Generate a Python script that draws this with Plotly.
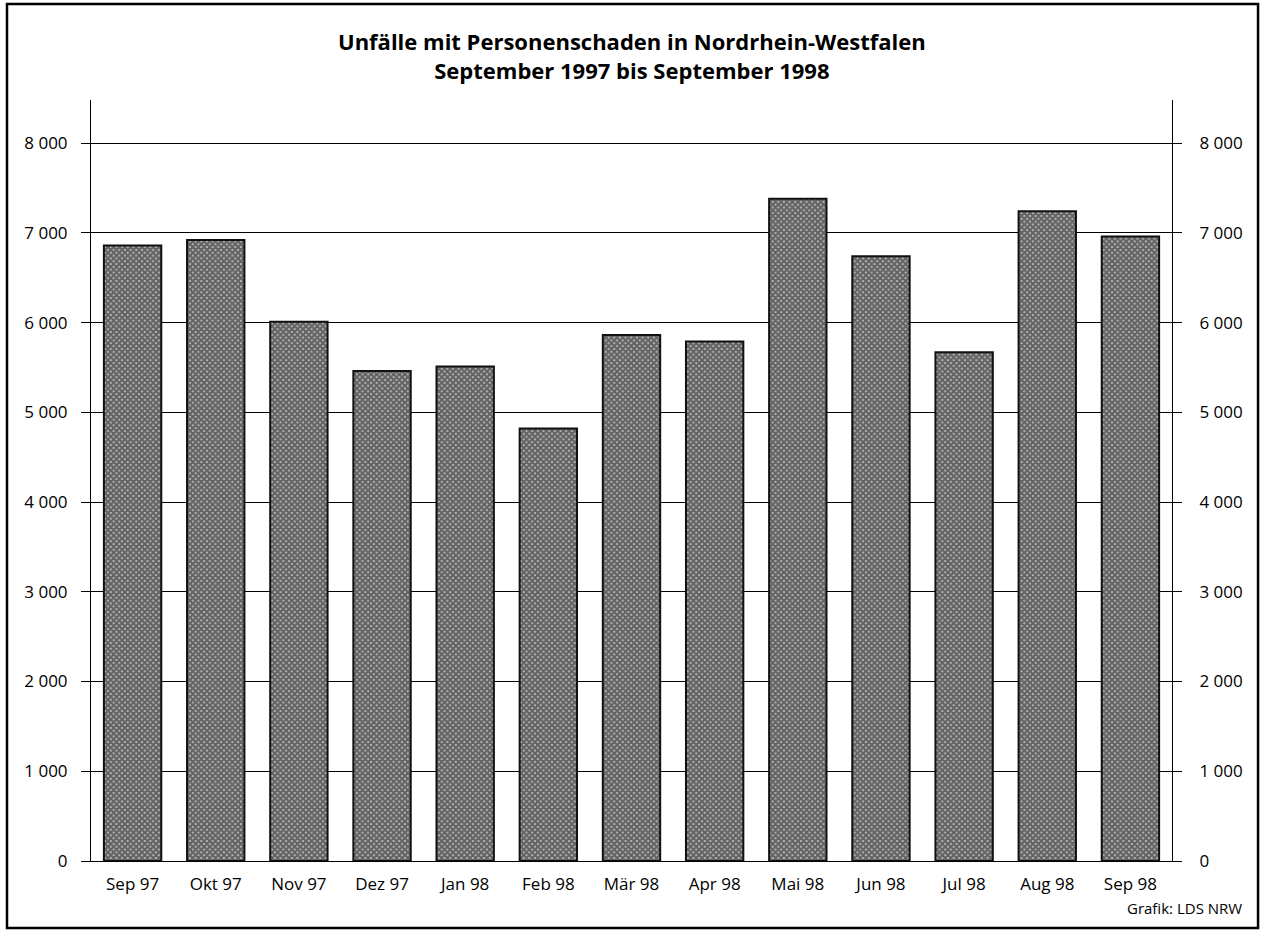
import plotly.graph_objects as go

# Monthly accidents with personal injury, NRW
months = ['Sep 97', 'Okt 97', 'Nov 97', 'Dez 97', 'Jan 98', 'Feb 98', 'Mär 98',
          'Apr 98', 'Mai 98', 'Jun 98', 'Jul 98', 'Aug 98', 'Sep 98']
accidents = [6860, 6920, 6010, 5460, 5510, 4820, 5860,
             5790, 7380, 6740, 5670, 7240, 6960]

tick_vals = [0, 1000, 2000, 3000, 4000, 5000, 6000, 7000, 8000]
tick_text = ['0', '1 000', '2 000', '3 000', '4 000', '5 000', '6 000', '7 000', '8 000']

FONT = 'Open Sans'

fig = go.Figure()

fig.add_trace(go.Bar(
    x=months,
    y=accidents,
    marker=dict(
        color='white',
        line=dict(color='#111111', width=2),
        pattern=dict(shape='x', size=4, solidity=0.8, fgcolor='#000000', bgcolor='#c8c8c8'),
    ),
    showlegend=False,
))

# invisible trace so the right axis gets drawn
fig.add_trace(go.Scatter(x=months, y=accidents, yaxis='y2', mode='markers',
                         marker=dict(opacity=0), showlegend=False, hoverinfo='skip'))

axis_y = dict(
    range=[0, 8480],
    tickvals=tick_vals,
    ticktext=tick_text,
    ticks='outside',
    ticklen=9,
    tickcolor='black',
    showline=True,
    linecolor='black',
    linewidth=1,
    tickfont=dict(family=FONT, size=17, color='black'),
    zeroline=False,
)

fig.update_layout(
    width=1261,
    height=933,
    paper_bgcolor='white',
    plot_bgcolor='white',
    margin=dict(l=91, r=89, t=100, b=72),
    bargap=0.31,
    font=dict(family=FONT, color='black'),
    xaxis=dict(
        range=[-0.5, len(months) - 0.5],
        showline=True,
        linecolor='black',
        linewidth=1,
        ticks='',
        tickfont=dict(family=FONT, size=17, color='black'),
        showgrid=False,
        ticklabelstandoff=8,
    ),
    yaxis=dict(**axis_y, showgrid=True, gridcolor='black', gridwidth=1, ticklabelstandoff=10),
    yaxis2=dict(**axis_y, overlaying='y', side='right', showgrid=False, ticklabelstandoff=14),
)

fig.add_annotation(
    text='<b>Unfälle mit Personenschaden in Nordrhein-Westfalen<br>'
         'September 1997 bis September 1998</b>',
    xref='paper', yref='paper', x=0.5, y=1.058, xanchor='center', yanchor='middle',
    showarrow=False, font=dict(family=FONT, size=22, color='black'), align='center',
)

fig.add_annotation(
    text='Grafik: LDS NRW',
    xref='paper', yref='paper', x=1.067, y=-0.062, xanchor='right', yanchor='middle',
    showarrow=False, font=dict(family=FONT, size=15, color='black'),
)

# outer frame
fig.add_shape(type='rect', xref='paper', yref='paper',
              x0=-0.0777, x1=1.0796, y0=-0.088, y1=1.126,
              line=dict(color='black', width=2.5))

fig.write_html('out.html', config={'displayModeBar': False},
               post_script="document.body.style.margin='0';")
